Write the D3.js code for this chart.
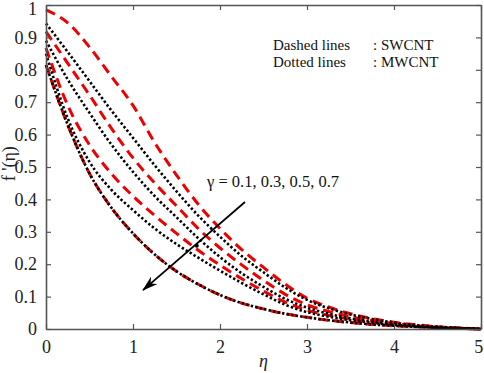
<!DOCTYPE html>
<html>
<head>
<meta charset="utf-8">
<script src="https://cdn.jsdelivr.net/npm/d3@7"></script>
<style>
  html, body { margin: 0; padding: 0; background: #fff; }
  svg { display: block; }
  text { font-family: "Liberation Serif", "Times New Roman", serif; }
</style>
</head>
<body>
<svg id="chart" width="484" height="373"></svg>
<script>
// ---- data ----
const eta = [0, 0.25, 0.5, 0.75, 1, 1.25, 1.5, 1.75, 2, 2.25, 2.5, 2.75, 3, 3.25, 3.5, 3.75, 4, 4.25, 4.5, 4.75, 5];
// SWCNT (dashed red), gamma = 0.1, 0.3, 0.5, 0.7
const swcnt_g01 = [0.985, 0.945, 0.87, 0.78, 0.69, 0.575, 0.475, 0.385, 0.31, 0.245, 0.19, 0.138, 0.095, 0.068, 0.047, 0.032, 0.021, 0.013, 0.007, 0.003, 0];
const swcnt_g03 = [0.918, 0.82, 0.722, 0.62, 0.528, 0.45, 0.38, 0.31, 0.25, 0.198, 0.15, 0.107, 0.075, 0.054, 0.038, 0.026, 0.017, 0.01, 0.006, 0.003, 0];
const swcnt_g05 = [0.867, 0.69, 0.568, 0.48, 0.41, 0.35, 0.295, 0.243, 0.197, 0.155, 0.117, 0.083, 0.058, 0.042, 0.03, 0.021, 0.014, 0.008, 0.005, 0.002, 0];
const swcnt_g07 = [0.815, 0.63, 0.48, 0.375, 0.295, 0.23, 0.178, 0.138, 0.105, 0.08, 0.062, 0.047, 0.036, 0.027, 0.02, 0.014, 0.01, 0.007, 0.004, 0.002, 0];
// MWCNT (dotted black)
const mwcnt_g01 = [0.943, 0.855, 0.765, 0.675, 0.59, 0.505, 0.425, 0.35, 0.285, 0.225, 0.175, 0.128, 0.09, 0.064, 0.045, 0.031, 0.02, 0.012, 0.007, 0.003, 0];
const mwcnt_g03 = [0.89, 0.77, 0.667, 0.57, 0.485, 0.41, 0.345, 0.28, 0.222, 0.172, 0.13, 0.093, 0.066, 0.047, 0.033, 0.023, 0.015, 0.009, 0.005, 0.002, 0];
const mwcnt_g05 = [0.85, 0.65, 0.516, 0.43, 0.367, 0.31, 0.262, 0.22, 0.18, 0.142, 0.107, 0.075, 0.052, 0.038, 0.027, 0.019, 0.013, 0.008, 0.004, 0.002, 0];
const mwcnt_g07 = [0.815, 0.63, 0.48, 0.375, 0.295, 0.23, 0.178, 0.138, 0.105, 0.08, 0.062, 0.047, 0.036, 0.027, 0.02, 0.014, 0.01, 0.007, 0.004, 0.002, 0];

const xTicks = [0, 1, 2, 3, 4, 5];
const yTicks = [0, 0.1, 0.2, 0.3, 0.4, 0.5, 0.6, 0.7, 0.8, 0.9, 1];
const legendLines = [["Dashed lines", ": SWCNT"], ["Dotted lines", ": MWCNT"]];
const gammaLabel = "\u03B3 = 0.1, 0.3, 0.5, 0.7";
const arrowFrom = [2.287, 0.392];
const arrowTo = [1.115, 0.12];
const arrowDot = [1.733, 0.257];

// ---- layout ----
const svg = d3.select("#chart");
const L = 46, R = 481, T = 5, B = 329;
const x = d3.scaleLinear().domain([0, 5]).range([L, R]);
const y = d3.scaleLinear().domain([0, 1]).range([B, T]);
const axisColor = "#555";

const line = d3.line().x((d, i) => x(eta[i])).y(d => y(d)).curve(d3.curveMonotoneX);

const plot = svg.append("g");
const sw = [swcnt_g01, swcnt_g03, swcnt_g05, swcnt_g07];
const mw = [mwcnt_g01, mwcnt_g03, mwcnt_g05, mwcnt_g07];

sw.forEach(s => plot.append("path").attr("d", line(s))
  .attr("fill", "none").attr("stroke", "#ee0000").attr("stroke-width", 3)
  .attr("stroke-dasharray", "10,6"));
mw.forEach(s => plot.append("path").attr("d", line(s))
  .attr("fill", "none").attr("stroke", "#000").attr("stroke-width", 2.6)
  .attr("stroke-dasharray", "2.4,2.2"));

// ---- axes (inward ticks, all sides) ----
const fmt = d => d === 0 ? "0" : (d === 1 ? "1" : d3.format(".1f")(d));
const gx = svg.append("g").attr("transform", `translate(0,${B})`)
  .call(d3.axisBottom(x).tickValues(xTicks).tickSizeInner(-5).tickSizeOuter(0).tickPadding(11).tickFormat(d3.format("d")));
const gxTop = svg.append("g").attr("transform", `translate(0,${T})`)
  .call(d3.axisTop(x).tickValues(xTicks).tickSizeInner(-5).tickSizeOuter(0).tickFormat(""));
const gy = svg.append("g").attr("transform", `translate(${L},0)`)
  .call(d3.axisLeft(y).tickValues(yTicks).tickSizeInner(-5).tickSizeOuter(0).tickPadding(9).tickFormat(fmt));
const gyR = svg.append("g").attr("transform", `translate(${R},0)`)
  .call(d3.axisRight(y).tickValues(yTicks).tickSizeInner(-5).tickSizeOuter(0).tickFormat(""));

[gx, gxTop, gy, gyR].forEach(g => {
  g.select(".domain").attr("stroke", axisColor).attr("stroke-width", 1.6);
  g.selectAll(".tick line").attr("stroke", axisColor).attr("stroke-width", 1.2);
  g.selectAll(".tick text").attr("fill", "#222").style("font-family", "'Liberation Serif', serif").style("font-size", "18px");
});
gy.selectAll(".tick text").filter(d => d === 1).attr("dy", "0.55em");
gx.selectAll(".tick text").filter(d => d === 5).attr("dx", "-0.15em");

// axis titles
svg.append("text").attr("x", x(2.5)).attr("y", 367).attr("text-anchor", "middle")
  .style("font-size", "18px").style("font-style", "italic").attr("fill", "#222").text("\u03B7");
svg.append("text").attr("transform", `translate(15,${y(0.51)}) rotate(-90)`).attr("text-anchor", "middle")
  .style("font-size", "18px").attr("fill", "#222").text("f '(\u03B7)");

// legend text
const lg = svg.append("g");
legendLines.forEach((p, i) => {
  lg.append("text").attr("x", 273).attr("y", 50 + i * 17).style("font-size", "15px").attr("fill", "#111").text(p[0]);
  lg.append("text").attr("x", 373).attr("y", 50 + i * 17).style("font-size", "15px").attr("fill", "#111").text(p[1]);
});

// gamma annotation and arrow
svg.append("defs").append("marker").attr("id", "ah").attr("viewBox", "0 0 16 10")
  .attr("refX", 15).attr("refY", 5).attr("markerWidth", 16).attr("markerHeight", 10)
  .attr("markerUnits", "userSpaceOnUse").attr("orient", "auto")
  .append("path").attr("d", "M0,0 L16,5 L0,10 L5,5 Z").attr("fill", "#000");
svg.append("line").attr("x1", x(arrowFrom[0])).attr("y1", y(arrowFrom[1]))
  .attr("x2", x(arrowTo[0])).attr("y2", y(arrowTo[1]))
  .attr("stroke", "#000").attr("stroke-width", 1.8).attr("marker-end", "url(#ah)");
svg.append("circle").attr("cx", x(arrowDot[0])).attr("cy", y(arrowDot[1])).attr("r", 2).attr("fill", "#000");
svg.append("text").attr("x", 207).attr("y", 187).style("font-size", "16.5px").attr("fill", "#111").text(gammaLabel);
</script>
</body>
</html>
